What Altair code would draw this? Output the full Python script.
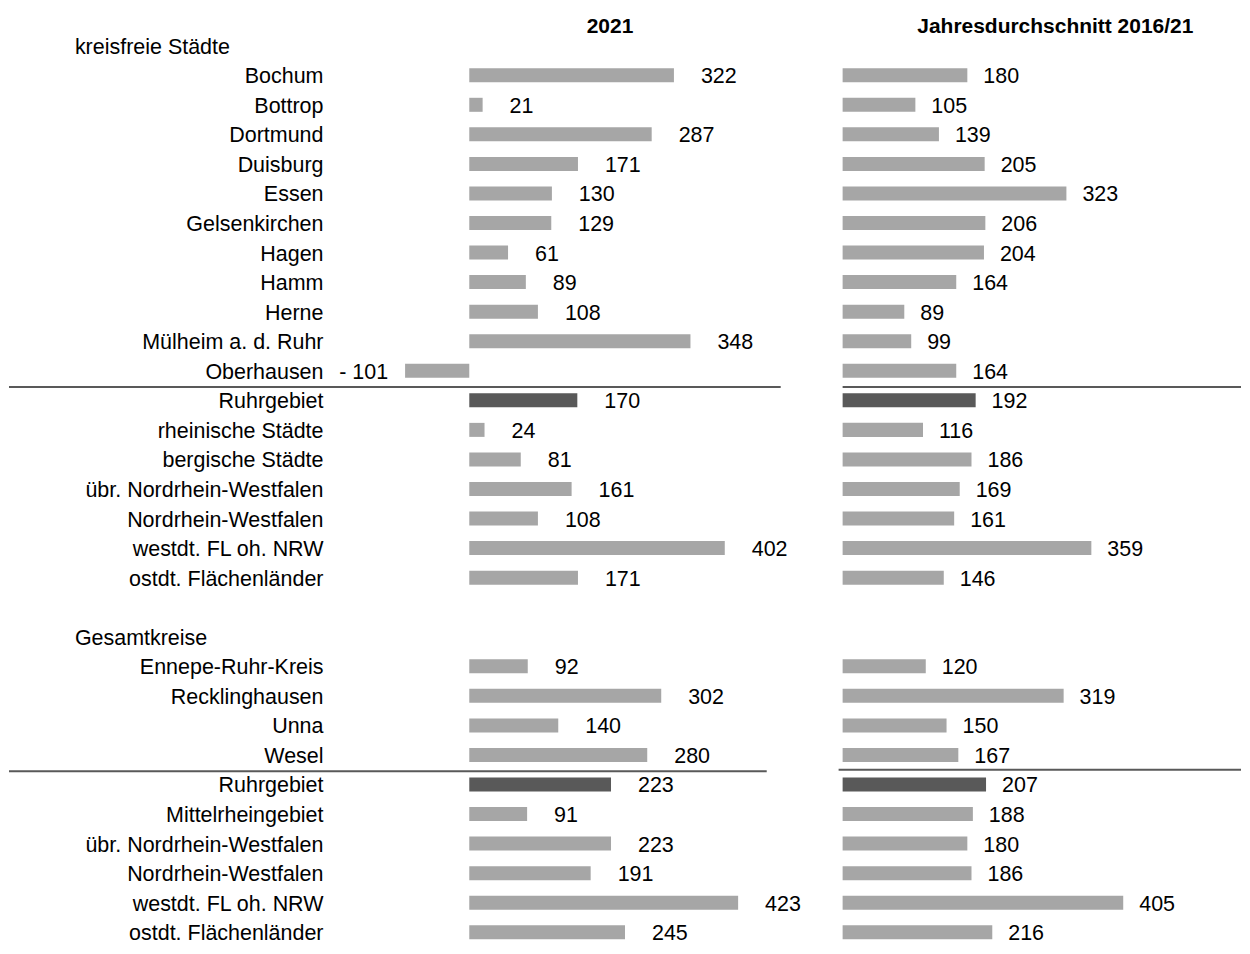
import altair as alt
import pandas as pd

# ---- data ----
names_kf = ["Bochum", "Bottrop", "Dortmund", "Duisburg", "Essen", "Gelsenkirchen",
            "Hagen", "Hamm", "Herne", "Mülheim a. d. Ruhr", "Oberhausen", "Ruhrgebiet",
            "rheinische Städte", "bergische Städte", "übr. Nordrhein-Westfalen",
            "Nordrhein-Westfalen", "westdt. FL oh. NRW", "ostdt. Flächenländer"]
v2021_kf = [322, 21, 287, 171, 130, 129, 61, 89, 108, 348, -101, 170, 24, 81, 161, 108, 402, 171]
avg_kf = [180, 105, 139, 205, 323, 206, 204, 164, 89, 99, 164, 192, 116, 186, 169, 161, 359, 146]

names_gk = ["Ennepe-Ruhr-Kreis", "Recklinghausen", "Unna", "Wesel", "Ruhrgebiet",
            "Mittelrheingebiet", "übr. Nordrhein-Westfalen", "Nordrhein-Westfalen",
            "westdt. FL oh. NRW", "ostdt. Flächenländer"]
v2021_gk = [92, 302, 140, 280, 223, 91, 223, 191, 423, 245]
avg_gk = [120, 319, 150, 167, 207, 188, 180, 186, 405, 216]

group_headers = ["kreisfreie Städte", "Gesamtkreise"]
header_rows = [0, 20]
rows_kf = list(range(1, 19))
rows_gk = list(range(21, 31))
highlight = "Ruhrgebiet"
panel_titles = ["2021", "Jahresdurchschnitt 2016/21"]

# ---- table ----
df = pd.DataFrame({
    "row": rows_kf + rows_gk,
    "name": names_kf + names_gk,
    "v2021": v2021_kf + v2021_gk,
    "avg": avg_kf + avg_gk,
})
df["dark"] = df["name"] == highlight
df["lab2021"] = [f"- {abs(v)}" if v < 0 else str(v) for v in df["v2021"]]
df["labavg"] = [str(v) for v in df["avg"]]

hdr = pd.DataFrame({"row": header_rows, "name": group_headers})
sep_left = pd.DataFrame({"row": [11.55, 24.55], "x0": [-724.2, -724.2], "x1": [490, 468]})
sep_right = pd.DataFrame({"row": [11.55, 24.5], "x0": [0, -5.8], "x1": [575, 575]})

FONT = "Liberation Sans"
FS = 21.5
TDY = 2
LIGHT = "#A6A6A6"
DARK = "#595959"
H = 938

yscale = alt.Scale(domain=[-1.25, 30.439], reverse=True, nice=False, zero=False)
Y = alt.Y("row:Q", scale=yscale, axis=None)
color = alt.condition("datum.dark", alt.value(DARK), alt.value(LIGHT))


def panel(field, label_field, xdomain, width, sep, title, title_x, pos_dx, with_names):
    xs = alt.Scale(domain=xdomain, nice=False, zero=False)
    base = alt.Chart(df)
    bars = base.transform_calculate(
        y0="datum.row - 0.237", y1="datum.row + 0.237"
    ).mark_rect().encode(
        x=alt.X(f"{field}:Q", scale=xs, axis=None),
        x2=alt.datum(0),
        y=alt.Y("y0:Q", scale=yscale, axis=None),
        y2="y1:Q",
        color=color,
    )
    pos = base.transform_filter(f"datum.{field} >= 0").mark_text(
        align="left", baseline="middle", dx=pos_dx, dy=TDY, font=FONT, fontSize=FS, color="black"
    ).encode(x=alt.X(f"{field}:Q", scale=xs, axis=None), y=Y, text=f"{label_field}:N")
    neg = base.transform_filter(f"datum.{field} < 0").mark_text(
        align="right", baseline="middle", dx=-17, dy=TDY, font=FONT, fontSize=FS, color="black"
    ).encode(x=alt.X(f"{field}:Q", scale=xs, axis=None), y=Y, text=f"{label_field}:N")
    rules = alt.Chart(sep).mark_rule(color=DARK, strokeWidth=2).encode(
        x=alt.X("x0:Q", scale=xs, axis=None), x2="x1:Q", y=Y
    )
    ttl = alt.Chart(pd.DataFrame({"t": [title]})).mark_text(
        align="center", baseline="middle", font=FONT, fontSize=21, fontWeight="bold", color="black"
    ).encode(x=alt.value(title_x), y=alt.value(18), text="t:N")
    layers = [bars, pos, neg, rules, ttl]
    if with_names:
        names = base.mark_text(
            align="right", baseline="middle", dy=TDY, font=FONT, fontSize=FS, color="black"
        ).encode(x=alt.value(315), y=Y, text="name:N")
        heads = alt.Chart(hdr).mark_text(
            align="left", baseline="middle", dy=TDY, font=FONT, fontSize=FS, color="black"
        ).encode(x=alt.value(66), y=Y, text="name:N")
        layers += [names, heads]
    return alt.layer(*layers).properties(width=width, height=H)


left = panel("v2021", "lab2021", [-724.2, 504.2], 782, sep_left, panel_titles[0], 602, 27, True)
right = panel("avg", "labavg", [-11.5, 575], 407, sep_right, panel_titles[1], 221, 16, False)

chart = alt.hconcat(left, right, spacing=45, bounds="flush").properties(
    padding=0
).configure_view(stroke=None)

chart.save("out.html", embed_options={"renderer": "svg", "actions": False})
